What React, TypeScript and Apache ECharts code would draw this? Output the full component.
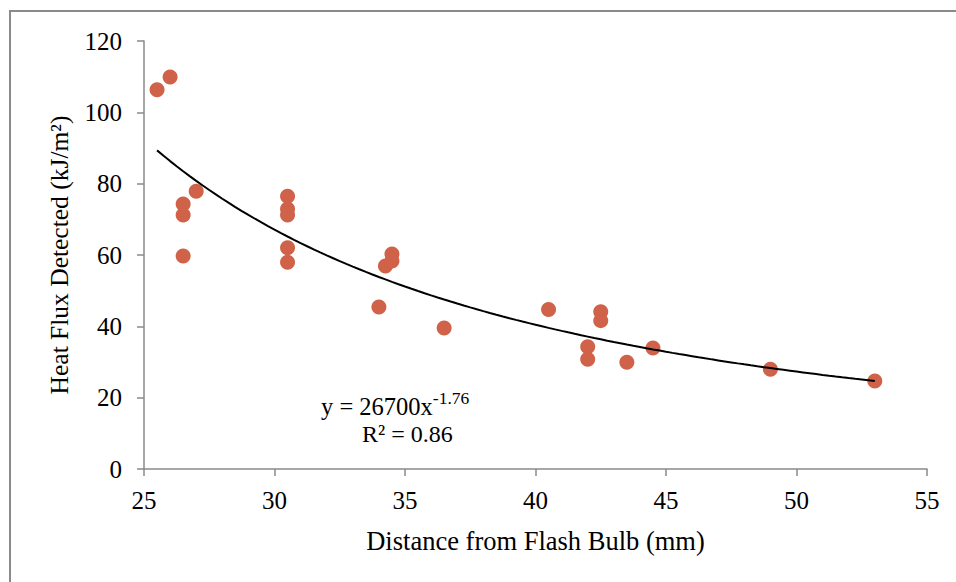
import React, { useEffect, useRef } from "react";
import * as echarts from "echarts";

const distance: number[] = [25.5, 26, 26.5, 26.5, 26.5, 27, 30.5, 30.5, 30.5, 30.5, 30.5, 34, 34.25, 34.5, 34.5, 36.5, 40.5, 42, 42, 42.5, 42.5, 43.5, 44.5, 49, 53];
const heatFlux: number[] = [106.3, 109.9, 74.3, 71.2, 59.7, 77.9, 76.5, 72.9, 71.2, 62.0, 58.0, 45.4, 56.9, 60.3, 58.3, 39.5, 44.7, 34.3, 30.8, 44.1, 41.6, 29.9, 33.9, 28.0, 24.7];

const xTicks = { min: 25, max: 55, interval: 5 };
const yTicks = { min: 0, max: 120, interval: 20 };

// Power trendline as shown in the chart: y = 26700 x^-1.76, R² = 0.86
const trendA = 26700;
const trendB = -1.76;
const trendR2 = "0.86";
const trendRange: [number, number] = [25.5, 53];

const FONT = "'Liberation Serif', 'Times New Roman', serif";

export default function App() {
  const ref = useRef<HTMLDivElement>(null);
  useEffect(() => {
    if (!ref.current) return;
    const chart = echarts.init(ref.current, undefined, { renderer: "svg" });
    const points = distance.map((x, i) => [x, heatFlux[i]]);
    const trend: number[][] = [];
    const steps = 110;
    for (let i = 0; i <= steps; i++) {
      const x = trendRange[0] + ((trendRange[1] - trendRange[0]) * i) / steps;
      trend.push([x, trendA * Math.pow(x, trendB)]);
    }
    chart.setOption({
      animation: false,
      backgroundColor: "#ffffff",
      textStyle: { fontFamily: FONT },
      grid: { left: 144, right: 29, top: 41, bottom: 113, containLabel: false },
      xAxis: {
        type: "value",
        min: xTicks.min,
        max: xTicks.max,
        interval: xTicks.interval,
        name: "Distance from Flash Bulb (mm)",
        nameLocation: "middle",
        nameGap: 58,
        nameTextStyle: { fontFamily: FONT, fontSize: 26.5, color: "#000" },
        axisLine: { show: true, lineStyle: { color: "#8a8a8a", width: 1.5 } },
        axisTick: { show: true, length: 7, lineStyle: { color: "#8a8a8a", width: 1.5 } },
        axisLabel: { fontFamily: FONT, fontSize: 25, color: "#000", margin: 19 },
        splitLine: { show: false },
      },
      yAxis: {
        type: "value",
        min: yTicks.min,
        max: yTicks.max,
        interval: yTicks.interval,
        name: "Heat Flux Detected (kJ/m²)",
        nameLocation: "middle",
        nameGap: 72,
        nameTextStyle: { fontFamily: FONT, fontSize: 25.5, color: "#000" },
        axisLine: { show: true, lineStyle: { color: "#8a8a8a", width: 1.5 } },
        axisTick: { show: true, length: 7, lineStyle: { color: "#8a8a8a", width: 1.5 } },
        axisLabel: { fontFamily: FONT, fontSize: 25, color: "#000", margin: 22 },
        splitLine: { show: false },
      },
      graphic: [
        {
          type: "rect",
          silent: true,
          shape: { x: 10, y: 11, width: 1200, height: 1200 },
          style: { fill: "none", stroke: "#8a8a8a", lineWidth: 2 },
        },
        {
          type: "text",
          left: 321,
          top: 389,
          style: {
            text: "{a|y = " + trendA + "x}{b|" + trendB + "}",
            rich: {
              a: { fontFamily: FONT, fontSize: 24.5, color: "#000", lineHeight: 30, verticalAlign: "bottom" },
              b: { fontFamily: FONT, fontSize: 17.5, color: "#000", lineHeight: 30, verticalAlign: "top" },
            },
          },
        },
        {
          type: "text",
          left: 362,
          top: 422,
          style: {
            text: "R² = " + trendR2,
            fontFamily: FONT,
            fontSize: 24,
            fill: "#000",
          },
        },
      ],
      series: [
        {
          type: "line",
          data: trend,
          showSymbol: false,
          symbol: "none",
          smooth: false,
          lineStyle: { color: "#000", width: 2 },
          silent: true,
          z: 3,
        },
        {
          type: "scatter",
          data: points,
          symbol: "circle",
          symbolSize: 15,
          itemStyle: { color: "#D0624A", opacity: 1 },
          z: 2,
        },
      ],
    });
    return () => chart.dispose();
  }, []);
  return (
    <div
      ref={ref}
      style={{ position: "fixed", left: 0, top: 0, width: 956, height: 582 }}
    />
  );
}
